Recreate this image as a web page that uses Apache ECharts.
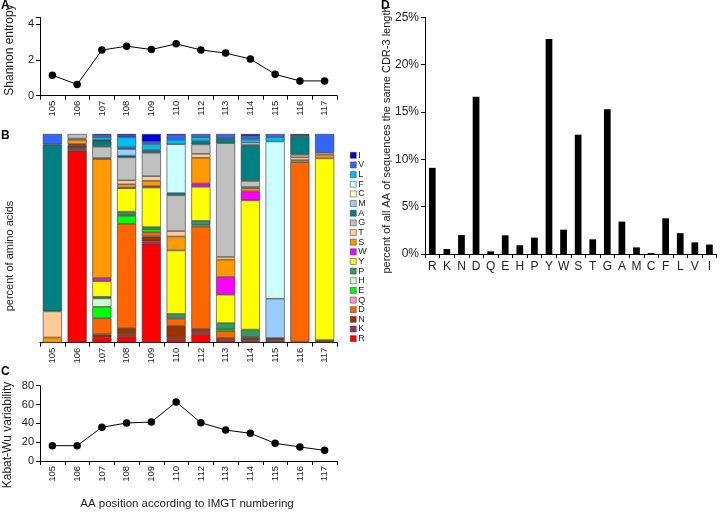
<!DOCTYPE html>
<html><head><meta charset="utf-8">
<script src="https://cdn.jsdelivr.net/npm/echarts@6/dist/echarts.min.js"></script>
<style>html,body{margin:0;padding:0;background:#fff}#c{width:720px;height:512px}</style>
</head><body><div id="c"></div>
<script>
// ---- Data ----
const positions = ['105','106','107','108','109','110','112','113','114','115','116','117'];
const shannon = [1.15, 0.63, 2.56, 2.78, 2.59, 2.91, 2.57, 2.39, 2.06, 1.2, 0.83, 0.83];
const kabatWu = [16.3, 16.3, 35.8, 40.4, 41.4, 62.7, 40.7, 32.9, 29.4, 18.8, 14.9, 11.3];

// Amino-acid composition per position (percent), stacked bottom (R) to top (I)
const aaOrder = ['R','K','N','D','Q','E','H','P','Y','W','S','T','G','A','M','C','F','L','V','I'];
const aaR = [0, 92, 2.6, 3.2, 47.4, 1.8, 4.2, 1.3, 0.5, 0, 0, 0];
const aaK = [0, 1.2, 0, 0.5, 1.1, 0.4, 1, 0, 0.5, 1, 0, 0];
const aaN = [0, 1.2, 1.4, 3.3, 2.4, 5.9, 1.4, 1, 1.3, 1.3, 0.5, 0.8];
const aaD = [0, 0.5, 7.7, 50, 2.1, 3.5, 48.9, 3.2, 0, 0, 86, 0.5];
const aaQ = [0, 0, 0, 0, 0, 0, 0, 0, 0, 0, 0, 0];
const aaE = [0, 0, 5.5, 3.8, 1.4, 0, 1, 1, 0.5, 0, 0, 0];
const aaH = [0, 0, 4, 0.5, 0, 0, 0, 0, 0, 0, 0, 0];
const aaP = [0, 0, 0.8, 1.5, 1, 2.2, 1.9, 2.9, 3.5, 0, 0, 0];
const aaY = [0, 0.3, 7.5, 11.2, 18.9, 30.4, 16.3, 13.6, 61.9, 0, 0, 87];
const aaW = [0, 0, 1.5, 0.3, 0.7, 0, 1.6, 8.5, 4.3, 0, 0, 0];
const aaS = [2.5, 2, 57, 1.6, 2.6, 6.7, 12.3, 8.3, 1.5, 0, 1, 1.8];
const aaT = [12.5, 0.6, 0.5, 1.9, 2.2, 2.6, 1.9, 1.3, 0.6, 0, 1.3, 0.9];
const aaG = [0, 2.2, 5.4, 11, 11.2, 17.1, 4.5, 54.5, 2.9, 0, 1.3, 0];
const aaA = [80, 0, 2.5, 0.8, 1.3, 1.1, 1.6, 2.4, 16.8, 0, 8.9, 0];
const aaM = [0, 0, 0.3, 3.2, 0, 0, 0, 0, 0.5, 18.8, 0, 0];
const aaC = [0, 0, 0, 0.3, 0, 0, 0, 0, 0, 0, 0, 0];
const aaF = [0, 0, 0.3, 0.5, 0, 23.4, 0, 0, 1, 75.3, 0, 0];
const aaL = [0, 0, 1.5, 4.8, 2.9, 2.2, 1.9, 0, 1.6, 2.1, 0, 0];
const aaV = [5, 0, 1, 0.8, 1, 2.2, 1.5, 2, 1.6, 1.5, 0.5, 9];
const aaI = [0, 0, 0.5, 0.8, 3.8, 0.5, 0, 0, 1, 0, 0.5, 0];

// Panel D: overall AA frequency
const dCategories = ['R','K','N','D','Q','E','H','P','Y','W','S','T','G','A','M','C','F','L','V','I'];
const dValues = [9.1, 0.53, 2.0, 16.6, 0.28, 1.97, 0.92, 1.73, 22.7, 2.57, 12.6, 1.55, 15.3, 3.42, 0.7, 0.1, 3.77, 2.2, 1.23, 1.0];

// ---- Styles ----
const aaColors = {R:'#FF0000',K:'#993366',N:'#993300',D:'#FF6600',Q:'#FF99CC',E:'#00FF00',H:'#CCFFCC',P:'#339966',
  Y:'#FFFF00',W:'#FF00FF',S:'#FF9900',T:'#FFCC99',G:'#C0C0C0',A:'#008080',M:'#99CCFF',C:'#FFFFCC',F:'#CCFFFF',
  L:'#00BFF0',V:'#3366FF',I:'#0000DD'};
const aaData = {R:aaR,K:aaK,N:aaN,D:aaD,Q:aaQ,E:aaE,H:aaH,P:aaP,Y:aaY,W:aaW,S:aaS,T:aaT,G:aaG,A:aaA,M:aaM,C:aaC,F:aaF,L:aaL,V:aaV,I:aaI};

const FONT = 'Liberation Sans, Arial, sans-serif';
const TXT = '#222';
const axisLine = {show:true, lineStyle:{color:'#000', width:1}};
const tick = {show:true, length:4, lineStyle:{color:'#000'}};

function catAxis(gridIndex, showLabel, fs) {
  return {type:'category', gridIndex, data: positions, boundaryGap:true,
    axisLine, axisTick: tick,
    axisLabel:{show:showLabel, interval:0, rotate:90, fontSize:fs||9.5, color:TXT, fontFamily:FONT, margin:5}};
}

const chart = echarts.init(document.getElementById('c'), null, {renderer:'canvas'});

const barSeries = aaOrder.map(aa => ({
  name: aa, type:'bar', stack:'aa', xAxisIndex:1, yAxisIndex:1,
  barCategoryGap:'23%',
  data: aaData[aa].map(v => v === 0 ? null : v),
  itemStyle:{color: aaColors[aa], borderColor:'#333', borderWidth:0.6},
  emphasis:{disabled:true}
}));

const option = {
  animation:false,
  textStyle:{fontFamily:FONT},
  grid:[
    {left:40, top:17.3, width:297, height:78.4},
    {left:40, top:134, width:297, height:208.7},
    {left:40, top:385.7, width:297, height:75.3},
    {left:425, top:17.3, width:291.7, height:236.7}
  ],
  xAxis:[
    catAxis(0, true),
    catAxis(1, true),
    catAxis(2, true),
    {type:'category', gridIndex:3, data:dCategories, boundaryGap:true, axisLine, axisTick:{show:true, length:4, interval:0, lineStyle:{color:'#000'}},
      axisLabel:{interval:0, fontSize:12, color:TXT, fontFamily:FONT, margin:7}}
  ],
  yAxis:[
    {type:'value', gridIndex:0, min:0, max:4.4, interval:2, axisLine, axisTick:tick, splitLine:{show:false},
      axisLabel:{fontSize:11, color:TXT, fontFamily:FONT, margin:6, formatter: v => (v % 2 === 0 ? String(v) : '')}},
    {type:'value', gridIndex:1, min:0, max:100, axisLine:{show:false}, axisTick:{show:false}, axisLabel:{show:false}, splitLine:{show:false}},
    {type:'value', gridIndex:2, min:0, max:80, interval:20, axisLine, axisTick:tick, splitLine:{show:false},
      axisLabel:{fontSize:11, color:TXT, fontFamily:FONT, margin:6}},
    {type:'value', gridIndex:3, min:0, max:25, interval:5, axisLine, axisTick:tick, splitLine:{show:false},
      axisLabel:{fontSize:12, color:TXT, fontFamily:FONT, margin:6, formatter:'{value}%'}}
  ],
  legend:{
    orient:'vertical', left:345, top:145.8, itemWidth:6, itemHeight:6, itemGap:0.65,
    selectedMode:false, icon:'rect',
    itemStyle:{borderWidth:0.5, borderColor:'#333'},
    data: aaOrder.slice().reverse(),
    textStyle:{fontSize:9, lineHeight:9, color:TXT, fontFamily:FONT, padding:[0,0,0,-3]}
  },
  series:[
    {type:'line', xAxisIndex:0, yAxisIndex:0, data:shannon, symbol:'circle', symbolSize:7.5,
      lineStyle:{color:'#000', width:1}, itemStyle:{color:'#000'}, emphasis:{disabled:true}},
    ...barSeries,
    {type:'line', xAxisIndex:2, yAxisIndex:2, data:kabatWu, symbol:'circle', symbolSize:7.5,
      lineStyle:{color:'#000', width:1}, itemStyle:{color:'#000'}, emphasis:{disabled:true}},
    {type:'bar', xAxisIndex:3, yAxisIndex:3, data:dValues, barCategoryGap:'54%',
      itemStyle:{color:'#000'}, emphasis:{disabled:true}}
  ],
  graphic:[
    {type:'text', left:1, top:0, style:{text:'A', font:'bold 12px '+FONT, fill:'#000'}},
    {type:'text', left:1, top:130, style:{text:'B', font:'bold 12px '+FONT, fill:'#000'}},
    {type:'text', left:1, top:366, style:{text:'C', font:'bold 12px '+FONT, fill:'#000'}},
    {type:'text', left:381, top:0, style:{text:'D', font:'bold 12px '+FONT, fill:'#000'}},
    {type:'text', x:10, y:50, rotation:Math.PI/2, style:{text:'Shannon entropy', font:'12px '+FONT, fill:TXT, align:'center', verticalAlign:'middle'}},
    {type:'text', x:10, y:256, rotation:Math.PI/2, style:{text:'percent of amino acids', font:'11px '+FONT, fill:TXT, align:'center', verticalAlign:'middle'}},
    {type:'text', x:8, y:435, rotation:Math.PI/2, style:{text:'Kabat-Wu variability', font:'12px '+FONT, fill:TXT, align:'center', verticalAlign:'middle'}},
    {type:'text', x:387, y:140, rotation:Math.PI/2, style:{text:'percent of all AA of sequences the same CDR-3 length', font:'11px '+FONT, fill:TXT, align:'center', verticalAlign:'middle'}},
    {type:'text', x:187, y:504, style:{text:'AA position according to IMGT numbering', font:'11.5px '+FONT, fill:TXT, align:'center', verticalAlign:'middle'}}
  ]
};
chart.setOption(option);
</script>
</body></html>
